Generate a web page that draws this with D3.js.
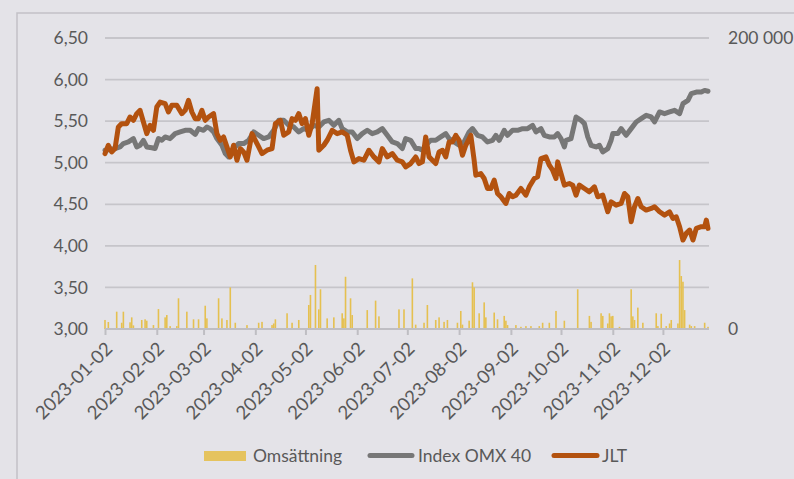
<!DOCTYPE html>
<html>
<head>
<meta charset="utf-8">
<title>JLT vs OMX 40</title>
<style>
  body { margin: 0; background: #e4e3e8; }
  svg { display: block; font-family: Lato, "Open Sans", sans-serif; }
</style>
</head>
<body>
<svg id="chart" width="794" height="479"></svg>
<script src="https://d3js.org/d3.v7.min.js"></script>
<script>
// tick labels on the time axis (2nd of every month)
var tickDates = ["2023-01-02","2023-02-02","2023-03-02","2023-04-02","2023-05-02","2023-06-02",
  "2023-07-02","2023-08-02","2023-09-02","2023-10-02","2023-11-02","2023-12-02"];
var priceTicks = [3.0, 3.5, 4.0, 4.5, 5.0, 5.5, 6.0, 6.5];
var volumeTicks = [0, 200000];
var seriesNames = ["Omsättning", "Index OMX 40", "JLT"];

// JLT share price (SEK)
var jltDates = ["2023-01-02","2023-01-04","2023-01-06","2023-01-08","2023-01-10","2023-01-12","2023-01-15","2023-01-17","2023-01-19","2023-01-21",
  "2023-01-23","2023-01-25","2023-01-27","2023-01-29","2023-01-31","2023-02-02","2023-02-04","2023-02-07","2023-02-09","2023-02-11",
  "2023-02-14","2023-02-17","2023-02-19","2023-02-21","2023-02-23","2023-02-25","2023-02-27","2023-03-01","2023-03-03","2023-03-05",
  "2023-03-08","2023-03-10","2023-03-12","2023-03-14","2023-03-16","2023-03-18","2023-03-20","2023-03-22","2023-03-24","2023-03-26",
  "2023-03-28","2023-03-31","2023-04-02","2023-04-04","2023-04-06","2023-04-09","2023-04-12","2023-04-14","2023-04-17","2023-04-19",
  "2023-04-22","2023-04-24","2023-04-26","2023-04-28","2023-04-30","2023-05-02","2023-05-04","2023-05-06","2023-05-09","2023-05-10",
  "2023-05-13","2023-05-15","2023-05-18","2023-05-21","2023-05-24","2023-05-27","2023-05-29","2023-05-31","2023-06-03","2023-06-06",
  "2023-06-09","2023-06-12","2023-06-15","2023-06-17","2023-06-20","2023-06-23","2023-06-26","2023-06-29","2023-07-01","2023-07-04",
  "2023-07-07","2023-07-09","2023-07-11","2023-07-13","2023-07-15","2023-07-17","2023-07-19","2023-07-21","2023-07-23","2023-07-25",
  "2023-07-27","2023-07-29","2023-07-31","2023-08-02","2023-08-04","2023-08-06","2023-08-09","2023-08-11","2023-08-12","2023-08-15",
  "2023-08-17","2023-08-19","2023-08-21","2023-08-23","2023-08-25","2023-08-27","2023-08-30","2023-09-01","2023-09-03","2023-09-05",
  "2023-09-08","2023-09-11","2023-09-13","2023-09-16","2023-09-18","2023-09-20","2023-09-23","2023-09-25","2023-09-27","2023-09-29",
  "2023-09-30","2023-10-02","2023-10-04","2023-10-07","2023-10-09","2023-10-11","2023-10-13","2023-10-16","2023-10-19","2023-10-22",
  "2023-10-24","2023-10-27","2023-10-30","2023-11-01","2023-11-04","2023-11-07","2023-11-09","2023-11-11","2023-11-13","2023-11-15",
  "2023-11-17","2023-11-19","2023-11-22","2023-11-25","2023-11-27","2023-11-30","2023-12-03","2023-12-06","2023-12-08","2023-12-10",
  "2023-12-12","2023-12-14","2023-12-16","2023-12-18","2023-12-20","2023-12-22","2023-12-25","2023-12-27","2023-12-28","2023-12-29"];
var jltValues = [5.11,5.21,5.13,5.17,5.43,5.47,5.47,5.55,5.51,5.59,
  5.63,5.49,5.35,5.45,5.39,5.67,5.73,5.71,5.61,5.69,
  5.69,5.59,5.63,5.75,5.61,5.53,5.53,5.63,5.51,5.55,
  5.59,5.35,5.27,5.31,5.19,5.07,5.21,5.03,5.17,5.13,
  5.03,5.35,5.27,5.19,5.11,5.15,5.17,5.47,5.51,5.33,
  5.37,5.53,5.51,5.59,5.47,5.53,5.33,5.47,5.89,5.15,
  5.21,5.27,5.39,5.35,5.37,5.33,5.15,5.01,5.05,5.03,
  5.15,5.07,5.01,5.17,5.07,5.11,5.03,5.01,4.95,4.99,
  5.07,4.99,5.01,5.31,5.07,5.03,4.99,5.13,5.15,5.07,
  5.25,5.25,5.33,5.27,5.09,5.21,5.33,5.03,4.85,4.87,
  4.81,4.69,4.69,4.79,4.63,4.59,4.51,4.63,4.59,4.61,
  4.69,4.61,4.71,4.81,4.83,5.05,5.07,4.97,4.91,4.81,
  5.01,4.87,4.73,4.75,4.73,4.61,4.73,4.69,4.65,4.71,
  4.59,4.61,4.41,4.53,4.49,4.51,4.63,4.59,4.29,4.47,
  4.57,4.47,4.43,4.45,4.47,4.41,4.37,4.41,4.33,4.35,
  4.23,4.07,4.15,4.19,4.07,4.21,4.23,4.23,4.31,4.21];

// OMX Stockholm 40, rebased to the JLT price scale
var omxDates = ["2023-01-02","2023-01-05","2023-01-08","2023-01-11","2023-01-13","2023-01-16","2023-01-19","2023-01-21","2023-01-23","2023-01-25",
  "2023-01-27","2023-01-30","2023-02-01","2023-02-03","2023-02-05","2023-02-07","2023-02-10","2023-02-13","2023-02-16","2023-02-19",
  "2023-02-22","2023-02-25","2023-02-27","2023-03-02","2023-03-04","2023-03-06","2023-03-08","2023-03-10","2023-03-13","2023-03-15",
  "2023-03-17","2023-03-20","2023-03-23","2023-03-26","2023-03-29","2023-04-01","2023-04-04","2023-04-07","2023-04-10","2023-04-13",
  "2023-04-16","2023-04-19","2023-04-22","2023-04-25","2023-04-28","2023-05-01","2023-05-04","2023-05-07","2023-05-10","2023-05-13",
  "2023-05-16","2023-05-19","2023-05-22","2023-05-24","2023-05-27","2023-05-30","2023-06-02","2023-06-05","2023-06-08","2023-06-11",
  "2023-06-14","2023-06-17","2023-06-20","2023-06-23","2023-06-26","2023-06-29","2023-07-01","2023-07-04","2023-07-07","2023-07-09",
  "2023-07-11","2023-07-13","2023-07-16","2023-07-19","2023-07-22","2023-07-25","2023-07-27","2023-07-30","2023-08-02","2023-08-05",
  "2023-08-08","2023-08-10","2023-08-13","2023-08-16","2023-08-19","2023-08-22","2023-08-24","2023-08-26","2023-08-29","2023-08-31",
  "2023-09-03","2023-09-06","2023-09-09","2023-09-12","2023-09-15","2023-09-17","2023-09-20","2023-09-22","2023-09-25","2023-09-28",
  "2023-09-30","2023-10-02","2023-10-04","2023-10-05","2023-10-08","2023-10-11","2023-10-14","2023-10-16","2023-10-18","2023-10-20",
  "2023-10-23","2023-10-25","2023-10-27","2023-10-30","2023-11-01","2023-11-02","2023-11-05","2023-11-07","2023-11-10","2023-11-13",
  "2023-11-16","2023-11-19","2023-11-22","2023-11-25","2023-11-27","2023-11-30","2023-12-03","2023-12-06","2023-12-09","2023-12-12",
  "2023-12-14","2023-12-17","2023-12-19","2023-12-22","2023-12-25","2023-12-27","2023-12-29"];
var omxValues = [5.15,5.16,5.17,5.19,5.23,5.25,5.29,5.19,5.21,5.27,
  5.19,5.18,5.17,5.29,5.27,5.31,5.29,5.35,5.37,5.39,
  5.39,5.34,5.41,5.39,5.43,5.41,5.37,5.29,5.21,5.11,
  5.07,5.17,5.23,5.23,5.27,5.37,5.33,5.29,5.31,5.39,
  5.51,5.51,5.45,5.43,5.37,5.41,5.39,5.45,5.43,5.49,
  5.51,5.45,5.51,5.41,5.37,5.37,5.29,5.35,5.39,5.35,
  5.37,5.41,5.33,5.25,5.23,5.17,5.29,5.27,5.17,5.17,
  5.15,5.21,5.27,5.27,5.31,5.35,5.29,5.25,5.21,5.25,
  5.37,5.41,5.33,5.31,5.25,5.27,5.33,5.27,5.39,5.33,
  5.39,5.39,5.41,5.41,5.45,5.37,5.41,5.33,5.31,5.31,
  5.35,5.29,5.19,5.27,5.29,5.55,5.51,5.47,5.31,5.21,
  5.19,5.21,5.13,5.17,5.27,5.35,5.35,5.41,5.33,5.41,
  5.49,5.53,5.57,5.55,5.49,5.61,5.59,5.61,5.63,5.59,
  5.71,5.75,5.83,5.85,5.85,5.87,5.86];

// daily turnover (number of shares)
var volDates = ["2023-01-02","2023-01-04","2023-01-09","2023-01-12","2023-01-13","2023-01-17","2023-01-18","2023-01-19","2023-01-24","2023-01-26",
  "2023-01-27","2023-01-31","2023-02-03","2023-02-07","2023-02-08","2023-02-10","2023-02-14","2023-02-15","2023-02-20","2023-02-24",
  "2023-02-27","2023-03-03","2023-03-04","2023-03-11","2023-03-13","2023-03-16","2023-03-18","2023-03-21","2023-03-28","2023-04-04",
  "2023-04-06","2023-04-12","2023-04-13","2023-04-14","2023-04-21","2023-04-24","2023-04-28","2023-05-04","2023-05-05","2023-05-08",
  "2023-05-10","2023-05-11","2023-05-15","2023-05-19","2023-05-24","2023-05-25","2023-05-26","2023-05-29","2023-05-30","2023-06-08",
  "2023-06-13","2023-06-15","2023-06-27","2023-06-30","2023-07-05","2023-07-07","2023-07-12","2023-07-14","2023-07-19","2023-07-21",
  "2023-07-24","2023-07-26","2023-08-01","2023-08-03","2023-08-04","2023-08-08","2023-08-10","2023-08-11","2023-08-14","2023-08-17",
  "2023-08-18","2023-08-23","2023-08-25","2023-08-29","2023-08-30","2023-08-31","2023-09-05","2023-09-08","2023-09-11","2023-09-14",
  "2023-09-19","2023-09-21","2023-09-25","2023-09-29","2023-10-04","2023-10-12","2023-10-19","2023-10-20","2023-10-26","2023-10-27",
  "2023-10-30","2023-10-31","2023-11-01","2023-11-02","2023-11-06","2023-11-13","2023-11-14","2023-11-15","2023-11-17","2023-11-20",
  "2023-11-28","2023-11-29","2023-12-01","2023-12-04","2023-12-06","2023-12-07","2023-12-11","2023-12-12","2023-12-13","2023-12-14",
  "2023-12-15","2023-12-18","2023-12-19","2023-12-21","2023-12-27","2023-12-29"];
var volValues = [6200,4800,11900,4300,11900,4600,8000,2500,6200,6650,
  5700,2700,13700,8000,9600,2000,2000,21100,11900,6650,
  6650,16000,7300,21100,7300,6200,28600,4300,2700,4300,
  4900,2700,3800,6650,10800,4300,6200,16500,23400,44000,
  13500,27300,7300,8000,10800,7300,35900,21100,9600,13000,
  19500,8700,13500,13500,34800,3000,4300,16500,6200,8000,
  4900,6200,4300,12400,3000,5700,32100,28600,10800,18300,
  8000,11300,6650,9000,5700,2700,2700,1500,2000,2000,
  2000,4300,4300,12400,5700,27300,9000,4900,10800,9000,
  3800,10800,8700,9000,1500,27300,8700,6200,14700,4300,
  10800,2000,10500,2000,3800,6200,3800,47400,36400,32500,
  13000,3000,2000,2000,4300,1500];

var parse = d3.timeParse("%Y-%m-%d");
var jlt = jltDates.map(function(d, i){ return {date: parse(d), value: jltValues[i]}; });
var omx = omxDates.map(function(d, i){ return {date: parse(d), value: omxValues[i]}; });
var vol = volDates.map(function(d, i){ return {date: parse(d), value: volValues[i]}; });

var svg = d3.select("#chart");
// plot box (note: "top" is reserved on window, so use other names)
var plotLeft = 105, plotRight = 708, plotTop = 38, plotBottom = 329;
var textColor = "#595959";

// outer frame of the chart box
svg.append("path")
  .attr("d", "M17,479 L17,13 L794,13")
  .attr("fill", "none")
  .attr("stroke", "#c2c1c6")
  .attr("stroke-width", 1.5);

var x = d3.scaleTime()
  .domain([parse("2023-01-02"), parse("2023-12-29")])
  .range([plotLeft, plotRight]);
var y = d3.scaleLinear().domain([3, 6.5]).range([plotBottom, plotTop]);
var yVol = d3.scaleLinear().domain([0, 200000]).range([plotBottom, plotTop]);

var comma = function(v){ return d3.format(".2f")(v).replace(".", ","); };
var spaced = function(v){ return d3.format(",")(v).replace(/,/g, " "); };

// horizontal gridlines
svg.append("g").selectAll("line")
  .data(priceTicks.slice(1))
  .enter().append("line")
  .attr("x1", plotLeft).attr("x2", plotRight + 1)
  .attr("y1", function(d){ return y(d); })
  .attr("y2", function(d){ return y(d); })
  .attr("stroke", "#c6c5ca")
  .attr("stroke-width", 1.8);

// left axis labels
var yAxis = svg.append("g")
  .attr("transform", "translate(" + (plotLeft - 17) + ",0)")
  .call(d3.axisLeft(y).tickValues(priceTicks).tickFormat(comma).tickSize(0).tickPadding(0));
yAxis.select(".domain").remove();
yAxis.selectAll("text").attr("fill", textColor).style("font-size", "17.5px")
  .style("font-family", "Lato, sans-serif");

// right axis labels
var yAxisR = svg.append("g")
  .attr("transform", "translate(" + (plotRight + 20) + ",0)")
  .call(d3.axisRight(yVol).tickValues(volumeTicks).tickFormat(spaced).tickSize(0).tickPadding(0));
yAxisR.select(".domain").remove();
yAxisR.selectAll("text").attr("fill", textColor).style("font-size", "17.5px")
  .style("font-family", "Lato, sans-serif");

// turnover bars
svg.append("g").selectAll("rect")
  .data(vol)
  .enter().append("rect")
  .attr("x", function(d){ return x(d.date) - 0.8; })
  .attr("width", 1.6)
  .attr("y", function(d){ return yVol(d.value); })
  .attr("height", function(d){ return plotBottom - yVol(d.value); })
  .attr("fill", "#e5c050");

// x axis
var xAxis = svg.append("g")
  .attr("transform", "translate(0," + plotBottom + ")")
  .call(d3.axisBottom(x).tickValues(tickDates.map(parse)).tickSize(6).tickFormat(d3.timeFormat("%Y-%m-%d")));
xAxis.select(".domain").attr("stroke", "#bfbec3").attr("stroke-width", 2)
  .attr("d", "M" + plotLeft + ",0H" + (plotRight + 1));
xAxis.selectAll(".tick line").attr("stroke", "#bfbec3").attr("stroke-width", 2);
xAxis.selectAll(".tick text")
  .attr("fill", textColor)
  .style("font-size", "18.5px")
  .style("font-family", "Lato, sans-serif")
  .attr("text-anchor", "end")
  .attr("y", 0).attr("dy", 0)
  .attr("transform", "translate(8,21) rotate(-45)");

var line = d3.line()
  .x(function(d){ return x(d.date); })
  .y(function(d){ return y(d.value); });

svg.append("path")
  .datum(omx)
  .attr("d", line)
  .attr("fill", "none")
  .attr("stroke", "#777777")
  .attr("stroke-width", 5)
  .attr("stroke-linejoin", "round")
  .attr("stroke-linecap", "round");

svg.append("path")
  .datum(jlt)
  .attr("d", line)
  .attr("fill", "none")
  .attr("stroke", "#b3520f")
  .attr("stroke-width", 5)
  .attr("stroke-linejoin", "round")
  .attr("stroke-linecap", "round");

// legend
var legend = svg.append("g").style("font-family", "Lato, sans-serif").style("font-size", "17.5px");
legend.append("rect").attr("x", 204).attr("y", 451).attr("width", 42).attr("height", 10).attr("fill", "#e5c35e");
legend.append("text").attr("x", 253).attr("y", 462).attr("fill", textColor).text(seriesNames[0]);
legend.append("line").attr("x1", 370).attr("x2", 412).attr("y1", 455.5).attr("y2", 455.5)
  .attr("stroke", "#777777").attr("stroke-width", 5).attr("stroke-linecap", "round");
legend.append("text").attr("x", 418).attr("y", 462).attr("fill", textColor).text(seriesNames[1]);
legend.append("line").attr("x1", 554).attr("x2", 597).attr("y1", 455.5).attr("y2", 455.5)
  .attr("stroke", "#b3520f").attr("stroke-width", 5).attr("stroke-linecap", "round");
legend.append("text").attr("x", 602).attr("y", 462).attr("fill", textColor).text(seriesNames[2]);
</script>
</body>
</html>
